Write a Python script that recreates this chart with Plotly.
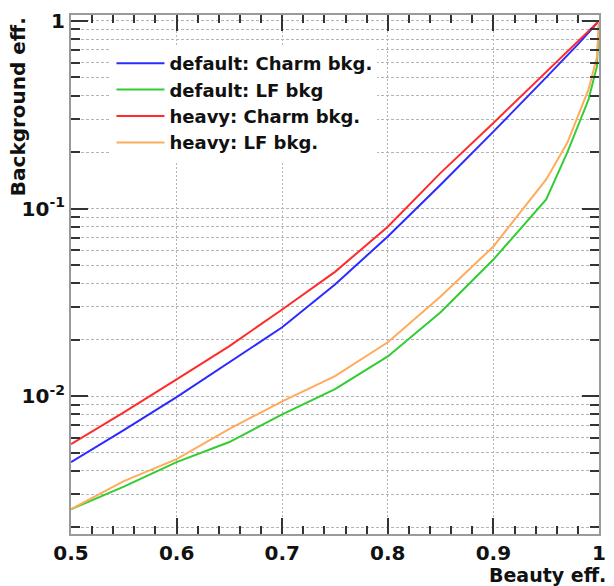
import numpy as np
import plotly.graph_objects as go

# ---- data ----
x_charm = [0.5, 0.55, 0.6, 0.65, 0.7, 0.75, 0.8, 0.85, 0.9, 0.95, 0.98, 1.0]
default_charm = [4.46e-3, 6.6e-3, 9.9e-3, 0.0152, 0.0233, 0.0394, 0.071, 0.134, 0.257, 0.50, 0.75, 1.0]
heavy_charm = [5.55e-3, 8.2e-3, 0.0123, 0.0185, 0.029, 0.046, 0.080, 0.155, 0.286, 0.535, 0.77, 1.0]

x_lf = [0.5, 0.55, 0.6, 0.65, 0.7, 0.75, 0.8, 0.85, 0.9, 0.95, 0.97, 0.99, 0.998, 1.0]
default_lf = [2.5e-3, 3.3e-3, 4.46e-3, 5.7e-3, 8.0e-3, 0.0109, 0.0163, 0.028, 0.0535, 0.112, 0.199, 0.38, 0.57, 1.0]
heavy_lf = [2.5e-3, 3.53e-3, 4.62e-3, 6.7e-3, 9.4e-3, 0.0128, 0.0194, 0.034, 0.0628, 0.143, 0.224, 0.43, 0.64, 1.0]

x_ticks = [0.5, 0.6, 0.7, 0.8, 0.9, 1.0]
x_ticklabels = ["0.5", "0.6", "0.7", "0.8", "0.9", "1"]
y_ticks = [0.01, 0.1, 1]
y_ticklabels = ["10<sup>-2</sup>", "10<sup>-1</sup>", "1"]

FONT = "DejaVu Sans, Liberation Sans, Arial, sans-serif"

fig = go.Figure()
series = [
    ("default: Charm bkg.", x_charm, default_charm, "#2b2bff"),
    ("default: LF bkg", x_lf, default_lf, "#33cc33"),
    ("heavy: Charm bkg.", x_charm, heavy_charm, "#ff2b2b"),
    ("heavy: LF bkg.", x_lf, heavy_lf, "#ffab5e"),
]
for name, xs, ys, c in series:
    fig.add_trace(go.Scatter(x=xs, y=ys, mode="lines", name=name,
                             line=dict(color=c, width=2)))

W, H = 614, 586
L, R, T, B = 71, 8, 15, 52
pw, ph = W - L - R, H - T - B

x_minor = [round(0.5 + 0.02 * i, 2) for i in range(26)]
y_minor = [m * 10.0 ** e for e in (-3, -2, -1) for m in range(1, 10)] + [1.0]
y_minor = [v for v in y_minor if v >= 1.8e-3]

fig.update_layout(
    width=W, height=H,
    margin=dict(l=L, r=R, t=T, b=B),
    paper_bgcolor="white", plot_bgcolor="white",
    font=dict(family=FONT, size=20, color="#111111", weight="bold"),
    showlegend=True,
    legend=dict(
        x=(112 - L) / pw, y=(H - B - 45) / ph, xanchor="left", yanchor="top",
        bgcolor="white", borderwidth=0,
        font=dict(family=FONT, size=18, color="#111111", weight="bold"),
        itemwidth=48, tracegroupgap=0,
    ),
    xaxis=dict(
        range=[0.5, 1.0], tickmode="array", tickvals=x_ticks, ticktext=x_ticklabels,
        ticks="inside", ticklen=16, tickwidth=1.5, tickcolor="#333333",
        showline=True, linecolor="#9a9a9a", linewidth=2, mirror="allticks",
        showgrid=True, gridcolor="#b5b5b5", griddash="2px,2px", gridwidth=1,
        zeroline=False,
        minor=dict(tickmode="array", tickvals=x_minor, ticks="inside", ticklen=8,
                   tickwidth=1.5, tickcolor="#333333", showgrid=False),
        tickfont=dict(size=20, weight="bold"),
    ),
    yaxis=dict(
        type="log", range=[np.log10(1.845e-3), np.log10(1.075)],
        tickmode="array", tickvals=y_ticks, ticktext=y_ticklabels,
        ticks="inside", ticklen=17, tickwidth=1.5, tickcolor="#333333",
        showline=True, linecolor="#9a9a9a", linewidth=2, mirror="allticks",
        showgrid=True, gridcolor="#b5b5b5", griddash="3px,2px", gridwidth=1,
        zeroline=False,
        minor=dict(tickmode="array", tickvals=y_minor, ticks="inside", ticklen=9,
                   tickwidth=1.5, tickcolor="#333333", showgrid=True,
                   gridcolor="#b5b5b5", griddash="3px,2px", gridwidth=1),
        tickfont=dict(size=20, weight="bold"),
    ),
    annotations=[
        dict(text="Beauty eff.", xref="paper", yref="paper", x=1.0 + 9 / pw, y=-(575 - (H - B)) / ph,
             xanchor="right", yanchor="middle", showarrow=False,
             font=dict(family=FONT, size=19, weight="bold", color="#111111")),
        dict(text="Background eff.", xref="paper", yref="paper", x=(17 - L) / pw, y=1.0,
             xanchor="center", yanchor="top", textangle=-90, showarrow=False,
             font=dict(family=FONT, size=20, weight="bold", color="#111111")),
    ],
)

fig.write_html("out.html")
